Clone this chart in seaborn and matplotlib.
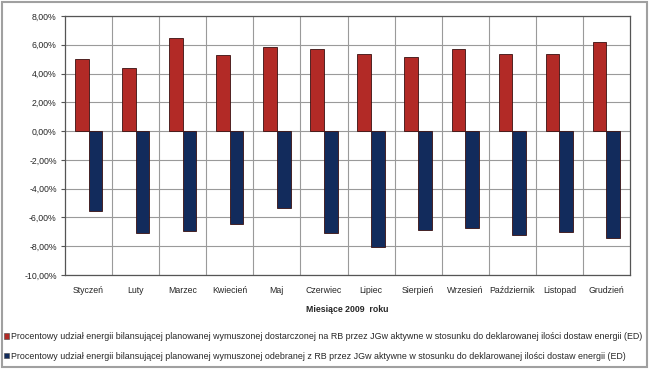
import numpy as np
import pandas as pd
import seaborn as sns
import matplotlib as mpl
from matplotlib import pyplot as plt
from matplotlib.patches import Patch, Rectangle
from matplotlib.ticker import FuncFormatter, MultipleLocator, FixedLocator

months = ['Styczeń', 'Luty', 'Marzec', 'Kwiecień', 'Maj', 'Czerwiec', 'Lipiec',
          'Sierpień', 'Wrzesień', 'Październik', 'Listopad', 'Grudzień']
dostarczona = [5.02, 4.42, 6.44, 5.30, 5.86, 5.72, 5.37, 5.16, 5.72, 5.35, 5.35, 6.19]
odebrana = [-5.58, -7.09, -6.95, -6.49, -5.35, -7.05, -8.02, -6.86, -6.74, -7.19, -7.00, -7.44]
series = ['Procentowy udział energii bilansującej planowanej wymuszonej dostarczonej na RB przez JGw aktywne w stosunku do deklarowanej ilości dostaw energii (ED)',
          'Procentowy udział energii bilansującej planowanej wymuszonej odebranej z RB przez JGw aktywne w stosunku do deklarowanej ilości dostaw energii (ED)']
colors = ['#B22A26', '#122B5C']

df = pd.DataFrame({
    'miesiac': months * 2,
    'wartosc': dostarczona + odebrana,
    'seria': [series[0]] * 12 + [series[1]] * 12,
})

sns.set_style('white')
plt.rcParams['font.family'] = ['Liberation Sans', 'DejaVu Sans']

fig = plt.figure(figsize=(6.5, 3.69), dpi=100)
ax = fig.add_axes([65 / 650, 1 - 275 / 369, 565 / 650, 259 / 369])

sns.barplot(data=df, x='miesiac', y='wartosc', hue='seria', palette=colors, saturation=1,
            width=0.58, edgecolor='#3a1010', linewidth=0.6, legend=False, ax=ax)

ax.set_ylim(-10, 8)
ax.set_xlim(-0.5, 11.5)
ax.yaxis.set_major_locator(MultipleLocator(2))
ax.yaxis.set_major_formatter(FuncFormatter(lambda v, p: ('%.2f%%' % v).replace('.', ',')))
ax.xaxis.set_minor_locator(FixedLocator(np.arange(0.5, 11, 1)))
ax.grid(axis='y', which='major', color='#9a9a9a', linewidth=0.8)
ax.grid(axis='x', which='minor', color='#9a9a9a', linewidth=0.8)
ax.set_axisbelow(True)
for s in ax.spines.values():
    s.set_color('#555555')
    s.set_linewidth(0.9)
ax.tick_params(axis='y', labelsize=6.3, length=3, left=True, color='#555555', pad=3)
ax.tick_params(axis='x', which='both', labelsize=6.3, length=0, pad=8)
ax.set_ylabel('')
ax.set_xlabel('Miesiące 2009  roku', fontsize=6.3, fontweight='bold', labelpad=7)

handles = [Patch(facecolor=c, edgecolor='#444444', linewidth=0.4) for c in colors]
fig.legend(handles, series, loc='upper left', bbox_to_anchor=(4 / 650, 1 - 332 / 369),
           frameon=False, fontsize=6.4, handlelength=0.6, handleheight=0.6,
           handletextpad=0.2, labelspacing=1.2, borderaxespad=0, borderpad=0)

fig.patches.append(Rectangle((2 / 650, 2 / 369), 645 / 650, 365 / 369, transform=fig.transFigure,
                             fill=False, edgecolor='#a0a0a0', linewidth=1.5))

fig.savefig('out.png', dpi=100)
